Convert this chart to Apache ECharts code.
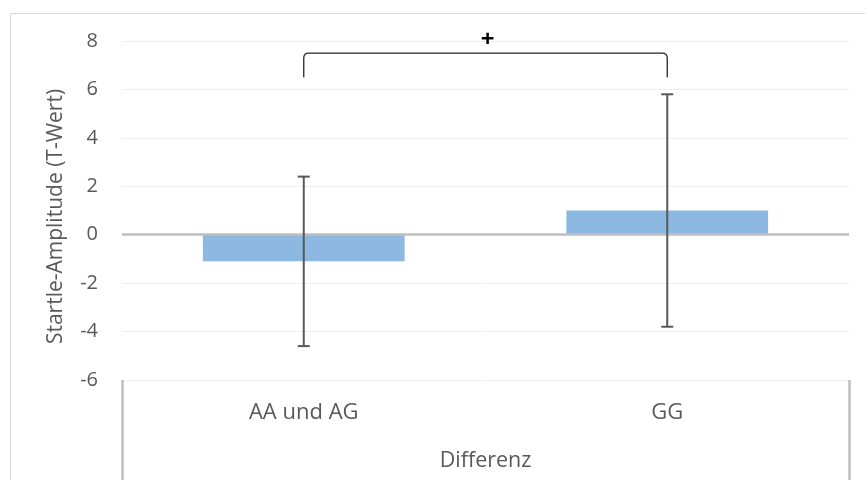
<!DOCTYPE html>
<html>
<head>
<meta charset="utf-8">
<script src="https://cdn.jsdelivr.net/npm/echarts@6/dist/echarts.min.js"></script>
<style>
  html, body { margin: 0; padding: 0; background: #ffffff; }
  #chart { width: 865px; height: 480px; }
</style>
</head>
<body>
<div id="chart"></div>
<script>
// Genotype groups and their mean startle difference with error ranges
const categories = ['AA und AG', 'GG'];
const groupLabel = ['Differenz'];
const meanValues = [-1.1, 1.0];
const errorValues = [3.5, 4.8];
const yTicks = { min: -6, max: 8, interval: 2 };

// Significance bracket between the two groups
const bracketGroups = [0, 1];
const bracketLow = 6.5;
const bracketHigh = 7.5;
const bracketText = '+';

const FONT = "'Open Sans', sans-serif";
const TEXT_COLOR = '#595959';

const chart = echarts.init(document.getElementById('chart'), null, { renderer: 'canvas' });

const errorData = meanValues.map((m, i) => [i, m - errorValues[i], m + errorValues[i]]);

chart.setOption({
  animation: false,
  backgroundColor: '#ffffff',
  graphic: [{
    type: 'rect',
    left: 8, top: 11,
    shape: { width: 880, height: 500 },
    style: { fill: 'none', stroke: '#d9d9d9', lineWidth: 1 },
    silent: true
  }],
  grid: { left: 122, right: 16, top: 41, bottom: 100 },
  xAxis: [{
    type: 'category',
    data: categories,
    position: 'bottom',
    axisLine: { show: false, onZero: false },
    axisTick: { show: false },
    axisLabel: { color: TEXT_COLOR, fontFamily: FONT, fontSize: 22, margin: 22 },
    splitLine: { show: false }
  }, {
    type: 'category',
    data: groupLabel,
    position: 'bottom',
    axisLine: { show: false, onZero: false },
    axisTick: { show: true, length: 100, lineStyle: { color: '#bfbfbf', width: 2.5 } },
    axisLabel: { color: TEXT_COLOR, fontFamily: FONT, fontSize: 21.5, margin: 70 },
    splitLine: { show: false }
  }],
  yAxis: {
    type: 'value',
    min: yTicks.min, max: yTicks.max, interval: yTicks.interval,
    name: 'Startle-Amplitude (T-Wert)',
    nameLocation: 'middle',
    nameRotate: 90,
    nameGap: 55,
    nameTextStyle: { color: TEXT_COLOR, fontFamily: FONT, fontSize: 21, padding: [0, 12, 0, 0] },
    axisLine: { show: false },
    axisTick: { show: false },
    axisLabel: { color: TEXT_COLOR, fontFamily: FONT, fontSize: 20, margin: 24 },
    splitLine: { lineStyle: { color: '#efefef', width: 1 } }
  },
  series: [{
    type: 'bar',
    data: meanValues,
    barWidth: '55.5%',
    itemStyle: { color: '#8db8e2' },
    z: 2,
    markLine: {
      silent: true,
      symbol: 'none',
      label: { show: false },
      lineStyle: { color: '#bfbfbf', width: 2.5, type: 'solid' },
      data: [{ yAxis: 0 }],
      z: 3
    }
  }, {
    // error bars with caps
    type: 'custom',
    data: errorData,
    z: 4,
    renderItem: function (params, api) {
      const x = api.value(0);
      const lo = api.coord([x, api.value(1)]);
      const hi = api.coord([x, api.value(2)]);
      const cap = 6;
      const style = { stroke: '#595959', lineWidth: 2 };
      return {
        type: 'group',
        children: [
          { type: 'line', shape: { x1: hi[0], y1: hi[1], x2: lo[0], y2: lo[1] }, style: style },
          { type: 'line', shape: { x1: hi[0] - cap, y1: hi[1], x2: hi[0] + cap, y2: hi[1] }, style: style },
          { type: 'line', shape: { x1: lo[0] - cap, y1: lo[1], x2: lo[0] + cap, y2: lo[1] }, style: style }
        ]
      };
    }
  }, {
    // significance bracket
    type: 'custom',
    data: [[bracketGroups[0], bracketGroups[1], bracketLow, bracketHigh]],
    z: 5,
    renderItem: function (params, api) {
      const a0 = api.coord([api.value(0), api.value(2)]);
      const a1 = api.coord([api.value(0), api.value(3)]);
      const b1 = api.coord([api.value(1), api.value(3)]);
      const b0 = api.coord([api.value(1), api.value(2)]);
      const r = 5;
      const path = 'M' + a0[0] + ' ' + a0[1] +
        ' L' + a1[0] + ' ' + (a1[1] + r) +
        ' Q' + a1[0] + ' ' + a1[1] + ' ' + (a1[0] + r) + ' ' + a1[1] +
        ' L' + (b1[0] - r) + ' ' + b1[1] +
        ' Q' + b1[0] + ' ' + b1[1] + ' ' + b1[0] + ' ' + (b1[1] + r) +
        ' L' + b0[0] + ' ' + b0[1];
      return {
        type: 'group',
        children: [
          { type: 'path', shape: { pathData: path }, style: { fill: 'none', stroke: '#262626', lineWidth: 1.3 } },
          { type: 'text', style: {
              x: (a1[0] + b1[0]) / 2 + 2, y: a1[1] - 13,
              text: bracketText, fill: '#000000',
              font: 'bold 24px ' + FONT,
              align: 'center', verticalAlign: 'middle'
          } }
        ]
      };
    }
  }]
});
</script>
</body>
</html>
